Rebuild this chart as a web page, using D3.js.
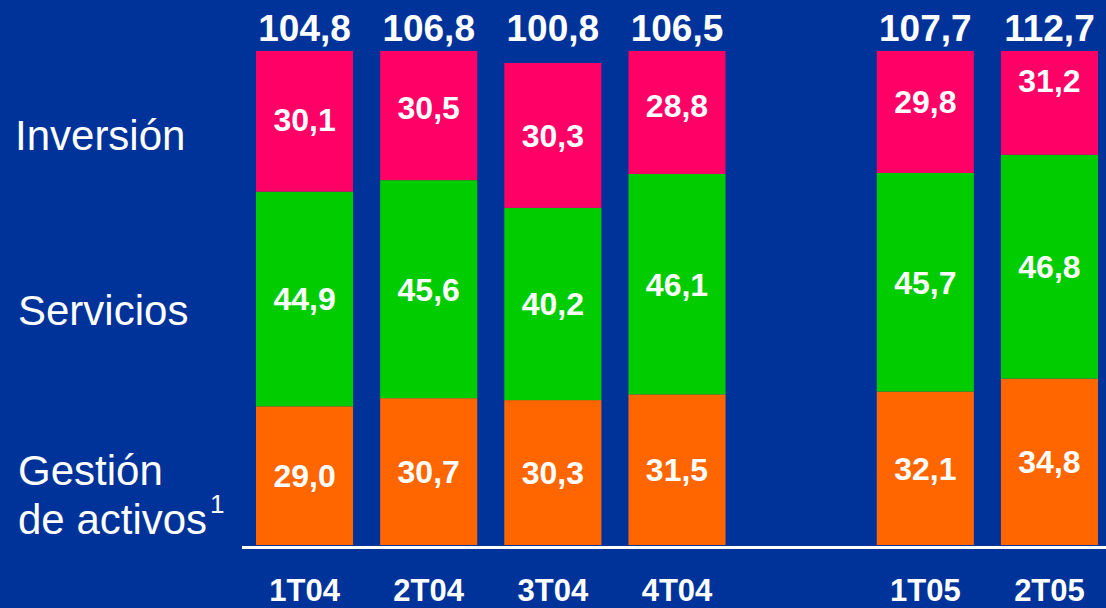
<!DOCTYPE html>
<html><head><meta charset="utf-8">
<script src="https://cdn.jsdelivr.net/npm/d3@7"></script>
<style>html,body{margin:0;padding:0;background:#003399;}svg{display:block;}</style>
</head><body>
<script>
const categories = ["1T04","2T04","3T04","4T04","1T05","2T05"];
const slots = ["1T04","2T04","3T04","4T04","gap","1T05","2T05"];
const gestion = [29.0, 30.7, 30.3, 31.5, 32.1, 34.8];
const servicios = [44.9, 45.6, 40.2, 46.1, 45.7, 46.8];
const inversion = [30.1, 30.5, 30.3, 28.8, 29.8, 31.2];
const totals = ["104,8","106,8","100,8","106,5","107,7","112,7"];
const seriesNames = ["Gestión","Servicios","Inversión"];
const colors = ["#FF6600","#00CC00","#FF0066"];

const W = 1106, H = 608;
const svg = d3.select("body").append("svg").attr("width", W).attr("height", H);
svg.append("rect").attr("width", W).attr("height", H).attr("fill", "#003399");

const x = d3.scaleBand().domain(slots).range([256, 1098]).paddingInner(0.218).paddingOuter(0);
const yFree = d3.scaleLinear().domain([0, 103.3]).range([545, 51]);
const y = yFree.copy().clamp(true);

const rows = categories.map((c, i) => ({cat: c, g: gestion[i], s: servicios[i], v: inversion[i]}));
const stack = d3.stack().keys(["g","s","v"])(rows);
const fmt = v => v.toFixed(1).replace(".", ",");
const FONT = "Liberation Sans, Arial, sans-serif";

const layers = svg.selectAll("g.layer").data(stack).join("g").attr("class","layer").attr("fill", (d,i) => colors[i]);
layers.selectAll("rect").data(d => d).join("rect")
  .attr("x", d => x(d.data.cat))
  .attr("width", x.bandwidth())
  .attr("y", d => y(d[1]))
  .attr("height", d => y(d[0]) - y(d[1]));

const labels = svg.append("g").attr("fill","#fff").attr("font-family",FONT).attr("font-weight","bold").attr("font-size", 32).attr("text-anchor","middle");
stack.forEach(layer => {
  labels.selectAll(null).data(layer).join("text")
    .attr("x", d => x(d.data.cat) + x.bandwidth()/2)
    .attr("y", d => (yFree(d[0]) + yFree(d[1]))/2)
    .attr("dy","0.36em")
    .text(d => fmt(d[1]-d[0]));
});

// totals
svg.append("g").selectAll("text").data(categories).join("text")
  .attr("x", c => x(c) + x.bandwidth()/2)
  .attr("y", 41)
  .attr("text-anchor","middle").attr("fill","#fff")
  .attr("font-family",FONT).attr("font-weight","bold").attr("font-size", 37)
  .text((c,i) => totals[i]);

// baseline axis
svg.append("line").attr("x1", 242).attr("x2", W).attr("y1", 547.5).attr("y2", 547.5).attr("stroke","#fff").attr("stroke-width",3);

// category labels
const xAxis = d3.axisBottom(x).tickSize(0).tickPadding(0).tickFormat(d => d === "gap" ? "" : d);
const ax = svg.append("g").attr("transform","translate(0,601)").call(xAxis);
ax.select(".domain").remove();
ax.selectAll("text").attr("fill","#fff").attr("font-family",FONT).attr("font-weight","bold").attr("font-size",31).attr("dy","0");

// left series labels
const left = svg.append("g").attr("fill","#fff").attr("font-family",FONT).attr("font-size",42);
left.append("text").attr("x",15).attr("y",150).text("Inversión");
left.append("text").attr("x",18).attr("y",325).text("Servicios");
left.append("text").attr("x",18).attr("y",485).text("Gestión");
const da = left.append("text").attr("x",18).attr("y",534);
da.append("tspan").text("de activos");
da.append("tspan").attr("font-size",26).attr("dx",3).attr("dy",-21).text("1");
</script>
</body></html>
